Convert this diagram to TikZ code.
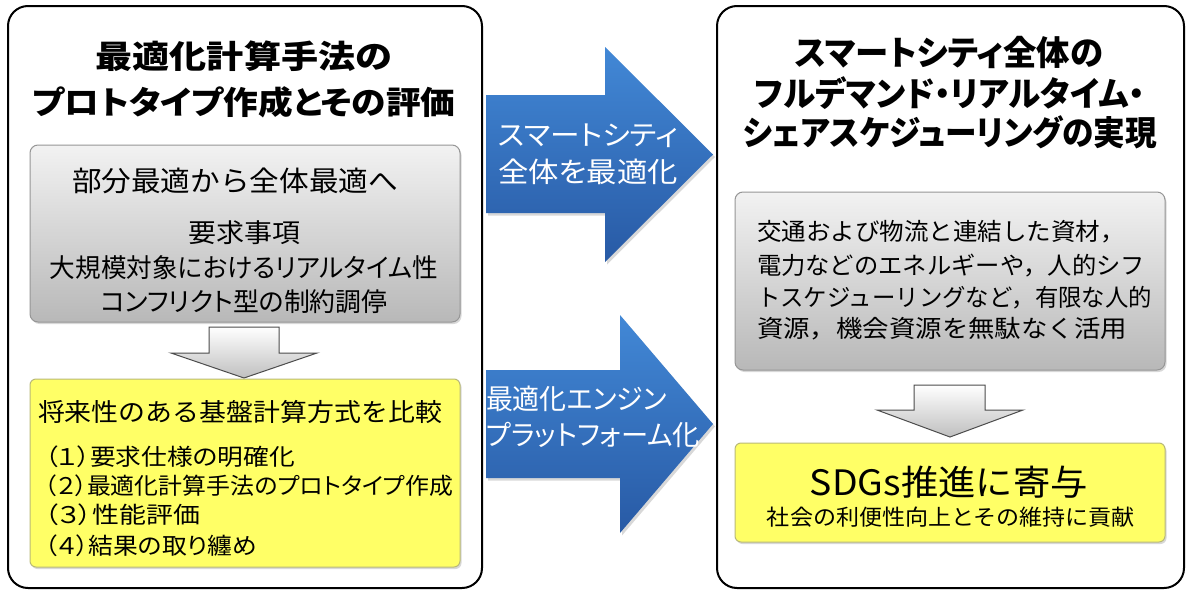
\documentclass[tikz,border=0pt]{standalone}
\usepackage{fontspec}
\usepackage{graphicx}
\setmainfont{Noto Sans CJK JP}
\newfontfamily\pf{Noto Sans CJK JP}[RawFeature=+palt]
\usetikzlibrary{shadows}
\definecolor{blueT}{RGB}{66,136,214}
\definecolor{blueB}{RGB}{40,90,165}
\definecolor{grayT}{RGB}{242,242,242}
\definecolor{grayB}{RGB}{184,184,184}
\definecolor{grayD}{RGB}{150,150,150}
\definecolor{yel}{RGB}{255,255,102}
\definecolor{yelD}{RGB}{185,185,120}
\newcommand\fsz[1]{\fontsize{#1}{#1}\selectfont}
\newcommand\fitw[2]{\resizebox{#1pt}{\height}{#2}}
\begin{document}
\begin{tikzpicture}[x=1pt,y=-1pt,
  panel/.style={draw=black, line width=2pt, rounded corners=20pt, fill=white, inner sep=0pt},
  graybox/.style={draw=grayD, line width=1pt, rounded corners=8pt, top color=grayT, bottom color=grayB,
     drop shadow={opacity=0.3, shadow xshift=1.5pt, shadow yshift=-2pt}, inner sep=0pt},
  yelbox/.style={draw=yelD, line width=1pt, rounded corners=6pt, fill=yel,
     drop shadow={opacity=0.3, shadow xshift=1.5pt, shadow yshift=-2pt}, inner sep=0pt},
  downarrow/.style={draw=black!70, line width=1pt, top color=white, bottom color=black!25},
  bluearrow/.style={top color=blueT, bottom color=blueB,
     drop shadow={opacity=0.3, shadow xshift=2pt, shadow yshift=-2.5pt}},
  txt/.style={inner sep=0pt, outer sep=0pt},
  wtxt/.style={txt, text=white, anchor=west},
]
\useasboundingbox (0,0) rectangle (1187,592);
\fill[white] (0,0) rectangle (1187,592);

% panels
\node[panel, minimum width=474pt, minimum height=582pt] (lp) at (245,297) {};
\node[panel, minimum width=467pt, minimum height=582pt] (rp) at (950.5,297) {};

% left panel
\node[txt] (lt1) at (244,56) {\fitw{297}{\fsz{32}\bfseries 最適化計算手法の}};
\node[txt] (lt2) at (244,102) {\fitw{423}{\fsz{32}\pf\bfseries プロトタイプ作成とその評価}};

\node[graybox, minimum width=430pt, minimum height=177pt] (lg) at (245,233.5) {};
\node[txt] (lg1) at (235,181) {\fitw{326}{\fsz{28}部分最適から全体最適へ}};
\node[txt] (lg2) at (244,233) {\fitw{112}{\fsz{26}要求事項}};
\node[txt] (lg3) at (244,268) {\fitw{388}{\fsz{26}\pf 大規模対象におけるリアルタイム性}};
\node[txt] (lg4) at (244,302) {\fitw{287}{\fsz{26}\pf コンフリクト型の制約調停}};

\path[downarrow] (209,327) -- (279,327) -- (279,353) -- (317,353) -- (244,378) -- (171,353) -- (209,353) -- cycle;

\node[yelbox, minimum width=430pt, minimum height=188pt] (ly) at (245,473) {};
\node[txt, anchor=west] (ly0) at (38,412) {\fitw{404}{\fsz{25}将来性のある基盤計算方式を比較}};
\node[txt, anchor=west] (ly1) at (45,457) {\fitw{250}{\fsz{23}\pf （１）要求仕様の明確化}};
\node[txt, anchor=west] (ly2) at (45,486) {\fitw{408}{\fsz{23}\pf （２）最適化計算手法のプロトタイプ作成}};
\node[txt, anchor=west] (ly3) at (45,515) {\fitw{155}{\fsz{23}\pf （３）性能評価}};
\node[txt, anchor=west] (ly4) at (45,546) {\fitw{212}{\fsz{23}\pf （４）結果の取り纏め}};

% blue arrows
\path[bluearrow] (486,95) -- (605,95) -- (605,47) -- (713,154.5) -- (605,262) -- (605,213) -- (486,213) -- cycle;
\node[wtxt] (ba1) at (498,136) {\fitw{180}{\fsz{28}\pf スマートシティ}};
\node[wtxt] (ba2) at (498,172) {\fitw{180}{\fsz{28}\pf 全体を最適化}};

\path[bluearrow] (486,370) -- (620,370) -- (620,315) -- (713,424) -- (620,533) -- (620,478) -- (486,478) -- cycle;
\node[wtxt] (bb1) at (486,399) {\fitw{181}{\fsz{28}\pf 最適化エンジン}};
\node[wtxt] (bb2) at (486,435) {\fitw{214}{\fsz{28}\pf プラットフォーム化}};

% right panel
\node[txt] (rt1) at (949,52) {\fitw{308}{\fsz{34}\pf\bfseries スマートシティ全体の}};
\node[txt] (rt2) at (950,93) {\fitw{390}{\fsz{34}\pf\bfseries フルデマンド・リアルタイム・}};
\node[txt] (rt3) at (950,132) {\fitw{414}{\fsz{34}\pf\bfseries シェアスケジューリングの実現}};

\node[graybox, minimum width=430pt, minimum height=178pt] (rg) at (950,281) {};
\node[txt, anchor=west] (rg1) at (757,232) {\fitw{368}{\fsz{24}交通および物流と連結した資材，}};
\node[txt, anchor=west] (rg2) at (757,266) {\fitw{388}{\fsz{24}電力などのエネルギーや，人的シフ}};
\node[txt, anchor=west] (rg3) at (757,298) {\fitw{395}{\fsz{24}トスケジューリングなど，有限な人的}};
\node[txt, anchor=west] (rg4) at (757,329) {\fitw{370}{\fsz{24}資源，機会資源を無駄なく活用}};

\path[downarrow] (914,385) -- (985,385) -- (985,410) -- (1023,410) -- (950,437) -- (877,410) -- (914,410) -- cycle;

\node[yelbox, minimum width=430pt, minimum height=99pt] (ry) at (950,492.5) {};
\node[txt] (ry1) at (949,482) {\fitw{278}{\fsz{35}SDGs推進に寄与}};
\node[txt] (ry2) at (951,517) {\fitw{368}{\fsz{22}社会の利便性向上とその維持に貢献}};
\end{tikzpicture}
\end{document}
